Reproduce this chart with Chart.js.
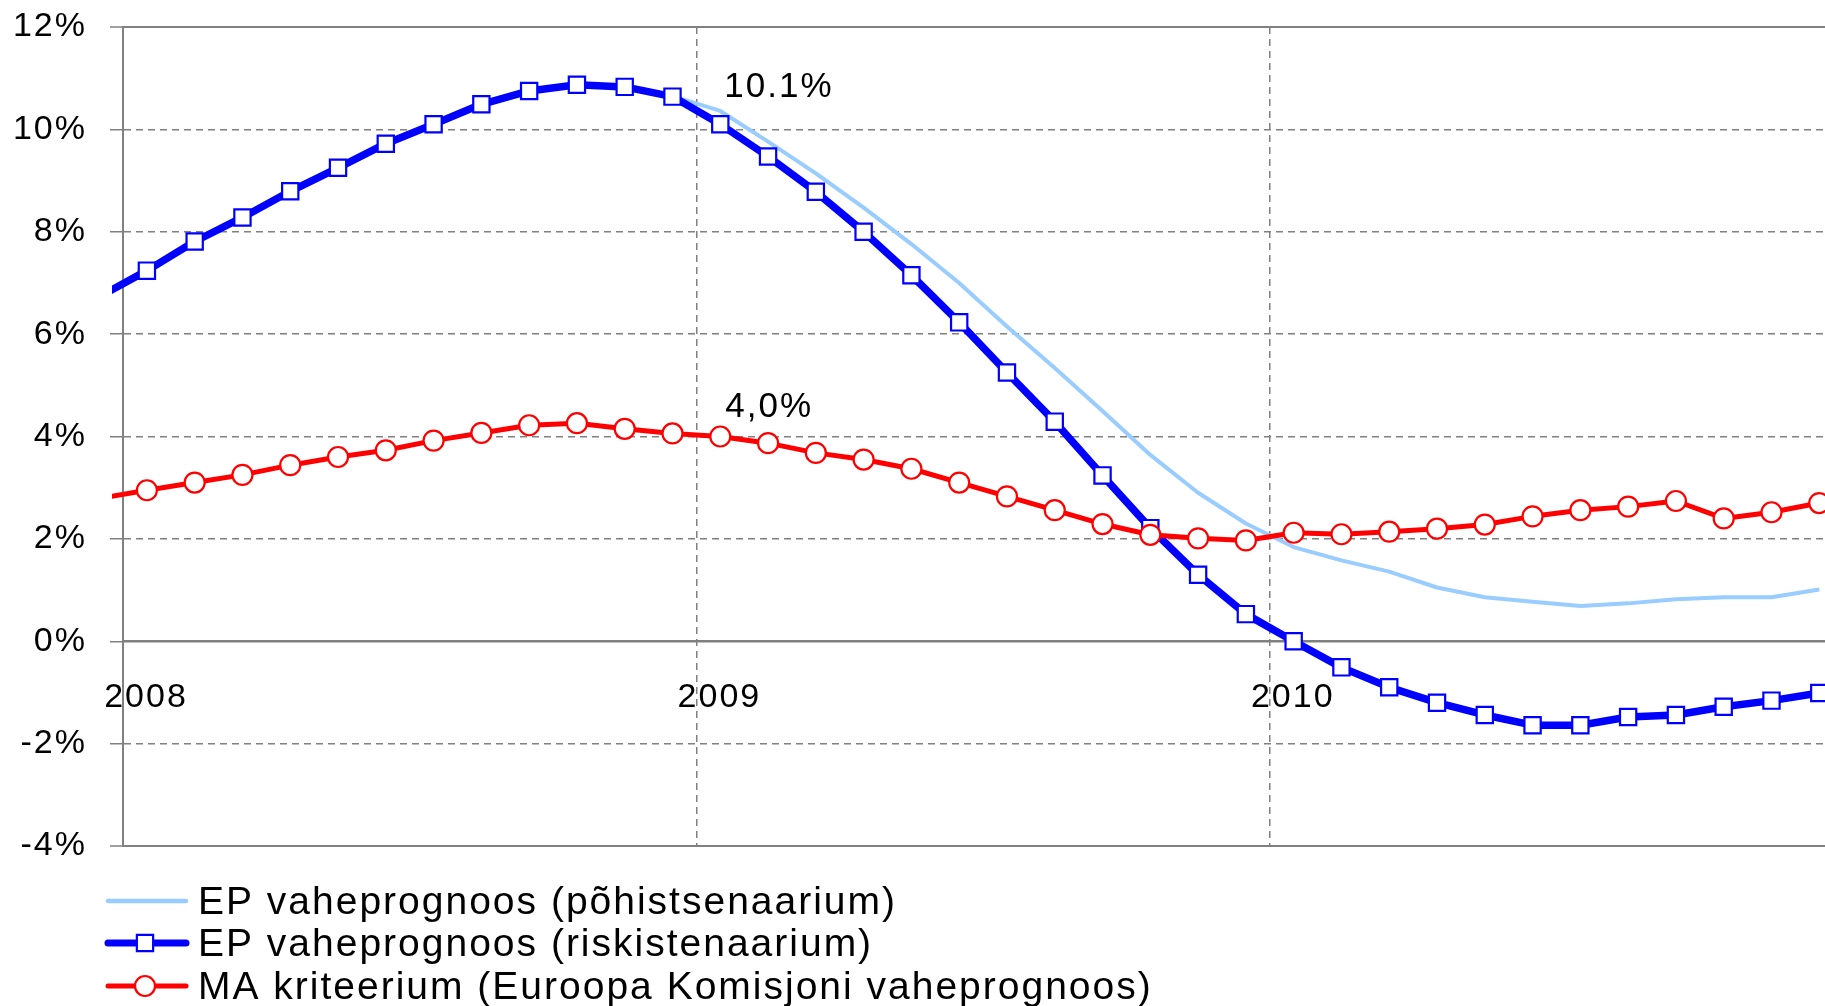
<!DOCTYPE html>
<html>
<head>
<meta charset="utf-8">
<script src="https://cdn.jsdelivr.net/npm/chart.js@4/dist/chart.umd.min.js"></script>
<style>
  html, body { margin: 0; padding: 0; background: #ffffff; overflow: hidden; width: 1825px; height: 1006px; }
  #wrap { position: relative; width: 1825px; height: 1006px; overflow: hidden; }
  #c { display: block; }
</style>
</head>
<body>
<div id="wrap"><canvas id="c" width="1825" height="1006"></canvas></div>
<script>
// ---- data ----
const monthLabels = [
  '2007-12',
  '2008-01','2008-02','2008-03','2008-04','2008-05','2008-06','2008-07','2008-08','2008-09','2008-10','2008-11','2008-12',
  '2009-01','2009-02','2009-03','2009-04','2009-05','2009-06','2009-07','2009-08','2009-09','2009-10','2009-11','2009-12',
  '2010-01','2010-02','2010-03','2010-04','2010-05','2010-06','2010-07','2010-08','2010-09','2010-10','2010-11','2010-12'
];
const seriesNames = [
  'EP vaheprognoos (põhistsenaarium)',
  'EP vaheprognoos (riskistenaarium)',
  'MA kriteerium (Euroopa Komisjoni vaheprognoos)'
];
const baseScenario = [
  6.73,
  7.24, 7.81, 8.28, 8.79, 9.25, 9.72, 10.10, 10.49, 10.75, 10.87, 10.83, 10.65,
  10.36, 9.76, 9.14, 8.47, 7.76, 7.00, 6.15, 5.34, 4.50, 3.64, 2.90, 2.30,
  1.84, 1.58, 1.36, 1.05, 0.86, 0.77, 0.69, 0.74, 0.82, 0.86, 0.86, 1.01
];
const riskScenario = [
  6.73,
  7.24, 7.81, 8.28, 8.79, 9.25, 9.72, 10.10, 10.49, 10.75, 10.87, 10.83, 10.64,
  10.10, 9.47, 8.78, 8.00, 7.15, 6.23, 5.25, 4.29, 3.24, 2.21, 1.30, 0.53,
  0.00, -0.51, -0.90, -1.20, -1.44, -1.64, -1.64, -1.48, -1.44, -1.28, -1.16, -1.01
];
const criterion = [
  2.79,
  2.95, 3.10, 3.25, 3.44, 3.60, 3.73, 3.92, 4.07, 4.22, 4.26, 4.15, 4.06,
  4.00, 3.87, 3.68, 3.55, 3.37, 3.10, 2.83, 2.56, 2.29, 2.08, 2.01, 1.97,
  2.12, 2.09, 2.14, 2.20, 2.28, 2.44, 2.56, 2.63, 2.74, 2.40, 2.52, 2.70
];
const yearLabels = ['2008', '2009', '2010'];
const yearTickValues = [0, 12, 24];          // months since Jan 2008
const yTickValues = [-4, -2, 0, 2, 4, 6, 8, 10, 12];
const annotationTexts = ['10.1%', '4,0%'];
const annotationSeries = [1, 2];
const annotationIndex = [13, 13];            // January 2009

// ---- helpers ----
function monthPosition(label) {
  const parts = label.split('-').map(Number);
  return (parts[0] - 2008) * 12 + (parts[1] - 1) + 0.5;
}
function toPoints(values) {
  return values.map((v, i) => ({ x: monthPosition(monthLabels[i]), y: v }));
}

const FONT = "'Liberation Sans', Arial, Helvetica, sans-serif";
Chart.defaults.font.family = FONT;
Chart.defaults.color = '#000000';

const GRID = '#808080';
const SPACING = '2px';

const spacingPlugin = {
  id: 'spacing',
  beforeUpdate(chart) { chart.ctx.letterSpacing = SPACING; },
  beforeLayout(chart) { chart.ctx.letterSpacing = SPACING; },
  beforeDraw(chart) { chart.ctx.letterSpacing = SPACING; }
};

function drawMarker(ctx, style, r, x, y, color, bw) {
  ctx.save();
  ctx.fillStyle = '#ffffff';
  ctx.strokeStyle = color;
  ctx.lineWidth = bw;
  ctx.beginPath();
  if (style === 'rect') {
    const s = r * Math.SQRT1_2;
    ctx.rect(x - s, y - s, 2 * s, 2 * s);
  } else {
    ctx.arc(x, y, r, 0, Math.PI * 2);
  }
  ctx.fill();
  ctx.stroke();
  ctx.restore();
}

const annotationPlugin = {
  id: 'valueNotes',
  afterDatasetsDraw(chart) {
    const ctx = chart.ctx;
    ctx.save();
    ctx.letterSpacing = SPACING;
    ctx.font = '35px ' + FONT;
    ctx.fillStyle = '#000000';
    ctx.textAlign = 'left';
    ctx.textBaseline = 'alphabetic';
    const offsets = [[4, -27], [5, -20]];
    annotationTexts.forEach((t, k) => {
      const pt = chart.getDatasetMeta(annotationSeries[k]).data[annotationIndex[k]];
      if (!pt) return;
      ctx.fillText(t, pt.x + offsets[k][0], pt.y + offsets[k][1]);
    });
    ctx.restore();
  }
};

const legendPlugin = {
  id: 'stackedLegend',
  afterDraw(chart) {
    const ctx = chart.ctx;
    const rowsY = [901, 943, 986];
    ctx.save();
    ctx.letterSpacing = SPACING;
    chart.data.datasets.forEach((ds, i) => {
      const y = rowsY[i];
      ctx.save();
      ctx.strokeStyle = ds.borderColor;
      ctx.lineWidth = ds.legendLineWidth;
      ctx.lineCap = 'round';
      ctx.beginPath();
      ctx.moveTo(108, y);
      ctx.lineTo(186, y);
      ctx.stroke();
      ctx.restore();
      if (ds.pointRadius > 0) {
        drawMarker(ctx, ds.pointStyle, ds.pointRadius, 145, y, ds.pointBorderColor, ds.pointBorderWidth);
      }
      ctx.font = '39px ' + FONT;
      ctx.fillStyle = '#000000';
      ctx.textAlign = 'left';
      ctx.textBaseline = 'alphabetic';
      ctx.fillText(ds.label, 198, y + 12.5);
    });
    ctx.restore();
  }
};

const clipArea = { left: 11, top: 20, right: 20, bottom: 20 };

new Chart(document.getElementById('c'), {
  type: 'line',
  data: {
    datasets: [
      {
        label: seriesNames[0],
        data: toPoints(baseScenario),
        borderColor: '#99CCFF',
        borderWidth: 4,
        legendLineWidth: 4.5,
        pointRadius: 0,
        order: 3,
        clip: clipArea,
        borderJoinStyle: 'round'
      },
      {
        label: seriesNames[1],
        data: toPoints(riskScenario),
        borderColor: '#0000FF',
        borderWidth: 7.5,
        legendLineWidth: 7,
        pointStyle: 'rect',
        pointRadius: 11.5,
        pointBorderWidth: 2.2,
        pointBorderColor: '#0000FF',
        pointBackgroundColor: '#ffffff',
        order: 2,
        clip: clipArea,
        borderJoinStyle: 'round'
      },
      {
        label: seriesNames[2],
        data: toPoints(criterion),
        borderColor: '#FF0000',
        borderWidth: 5,
        legendLineWidth: 5,
        pointStyle: 'circle',
        pointRadius: 10,
        pointBorderWidth: 2.2,
        pointBorderColor: '#FF0000',
        pointBackgroundColor: '#ffffff',
        order: 1,
        clip: clipArea,
        borderJoinStyle: 'round'
      }
    ]
  },
  options: {
    responsive: false,
    maintainAspectRatio: false,
    devicePixelRatio: 1,
    animation: false,
    events: [],
    layout: { autoPadding: false, padding: { top: 27, right: 0, bottom: 160, left: 0 } },
    plugins: {
      legend: { display: false },
      tooltip: { enabled: false },
      title: { display: false }
    },
    scales: {
      y: {
        type: 'linear',
        position: 'left',
        min: -4,
        max: 12,
        afterBuildTicks: s => { s.ticks = yTickValues.map(v => ({ value: v })); },
        afterFit: s => { s.width = 123; s.paddingTop = 0; s.paddingBottom = 0; },
        ticks: {
          callback: v => v + '%',
          font: { size: 34 },
          color: '#000000',
          padding: 23
        },
        grid: {
          color: GRID,
          lineWidth: c => (c.tick && (c.tick.value === 12 || c.tick.value === -4)) ? 2 : 1.5,
          drawTicks: true,
          tickLength: 13,
          tickColor: GRID,
          tickWidth: 1.5
        },
        border: {
          display: true,
          color: GRID,
          width: 2,
          dash: c => (c.tick && [12, 0, -4].includes(c.tick.value)) ? [] : [7, 5]
        }
      },
      x: {
        type: 'linear',
        position: { y: 0 },
        min: 0,
        max: 35.62,
        afterBuildTicks: s => { s.ticks = yearTickValues.map(v => ({ value: v })); },
        afterFit: s => { s.paddingLeft = 0; s.paddingRight = 0; },
        ticks: {
          callback: (v, i) => yearLabels[i],
          font: { size: 34 },
          color: '#000000',
          labelOffset: 23,
          padding: 36,
          maxRotation: 0,
          autoSkip: false
        },
        grid: {
          color: GRID,
          lineWidth: 1.5,
          drawTicks: false
        },
        border: {
          display: true,
          color: GRID,
          width: 2,
          dash: [7, 5]
        }
      }
    }
  },
  plugins: [spacingPlugin, annotationPlugin, legendPlugin]
});
</script>
</body>
</html>
